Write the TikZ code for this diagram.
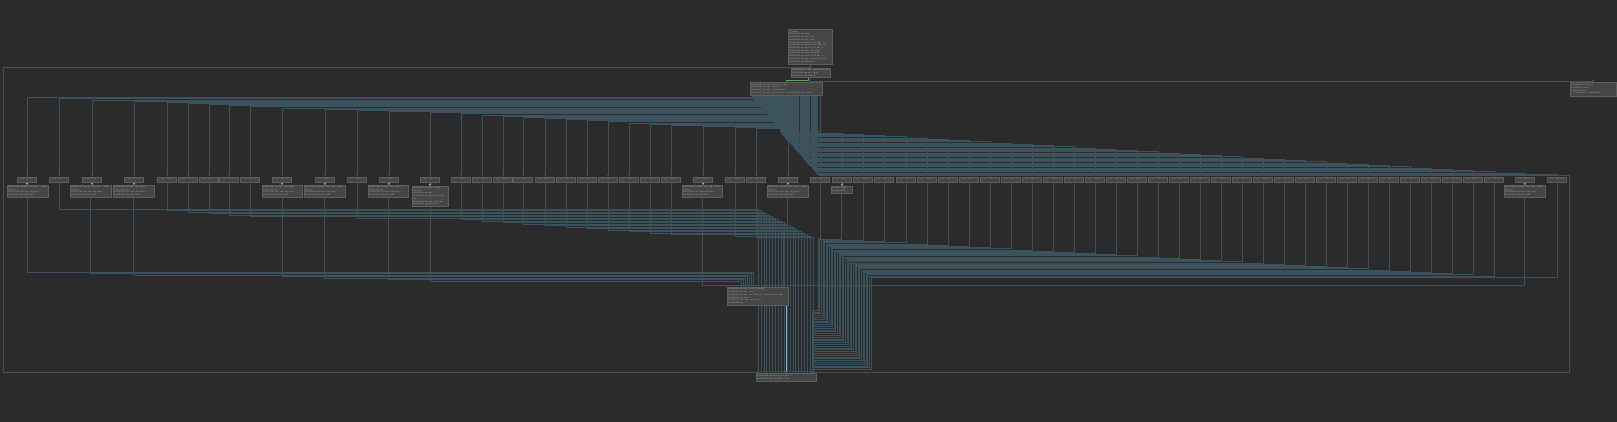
\documentclass[tikz,border=0pt]{standalone}
\usepackage{fontspec}
\usetikzlibrary{calc,arrows.meta}

\definecolor{bgcol}{HTML}{2B2B2B}
\definecolor{blkfill}{HTML}{464646}
\definecolor{blkline}{HTML}{5E5E5E}
\definecolor{asmtext}{HTML}{B4B4B4}
\definecolor{asmaddr}{HTML}{8A8A8A}
\definecolor{asmgreen}{HTML}{6FA08A}
\definecolor{edgeline}{HTML}{3C525D}
\definecolor{edgehl}{HTML}{6FB7DF}
\definecolor{edgetrue}{HTML}{5FA860}

\pgfdeclarelayer{bg}
\pgfdeclarelayer{edges}
\pgfsetlayers{bg,edges,main}

\newcommand{\asmfont}{\fontsize{1.2}{1.55}\selectfont\ttfamily}

\tikzset{
  blk/.style={draw=blkline, fill=blkfill, line width=0.3pt, inner sep=0.5pt,
    anchor=north west, align=left, font=\asmfont, text=asmtext},
  casebox/.style={draw=blkline, fill=blkfill, line width=0.3pt, inner sep=0pt,
    minimum width=0.39cm, minimum height=0.1cm, font=\asmfont, text=asmtext},
  edge/.style={draw=edgeline, line width=0.28pt, -{Triangle[width=1.3pt,length=1.1pt]}},
  hledge/.style={edge, draw=edgehl},
  trueedge/.style={edge, draw=edgetrue},
}

\begin{document}
\begin{tikzpicture}[x=0.02cm, y=-0.02cm]
\begin{pgfonlayer}{bg}
\fill[bgcol] (0,0) rectangle (1617,422);
\end{pgfonlayer}
\useasboundingbox (0,0) rectangle (1617,422);

% entry, loop test, switch table
\node[blk, text width=0.84cm, minimum height=0.70cm] (T) at (788,29) {;-- main:\\
0x00401136  push rbp\\
0x00401137  mov rbp, rsp\\
0x0040113a  sub rsp, 0x20\\
0x0040113e  mov dword [var\_14h], edi\\
0x00401141  mov qword [var\_20h], rsi\\
0x00401145  mov dword [var\_4h], 0\\
0x0040114c  lea rdi, str.start\\
0x00401153  call sym.imp.puts\\
0x00401158  mov dword [var\_8h], 0\\
0x0040115f  mov eax, dword [var\_14h]\\
0x00401162  jmp 0x401268};
\node[blk, text width=0.74cm, minimum height=0.18cm] (S) at (791,68) {0x00401268  mov eax, dword [var\_4h]\\
0x0040126b  cmp eax, 0x3f\\
0x0040126e  ja 0x401279};
\node[blk, text width=1.40cm, minimum height=0.26cm] (D) at (750,82) {0x00401167  mov eax, dword [var\_4h]\\
0x0040116a  lea rdx, [rax*4]\\
0x00401172  lea rax, [0x00402050]\\
0x00401179  jmp qword [rdx + rax] ; switch table (64 cases)};
\node[blk, text width=0.88cm, minimum height=0.28cm] (R) at (1570,82) {0x00401279  mov eax, 0\\
0x0040127e  leave\\
0x0040127f  ret\\
;-- end of main: 0x00401280};

% case blocks
\foreach \cx [count=\i] in {27,59,92,134,167,188,209,229,250,282,325,357,389,430,461,482,503,523,545,566,587,608,629,650,671,703,735,756,788,820,842,863,884,906,927,948,969,990,1011,1032,1053,1074,1095,1116,1137,1158,1179,1200,1221,1242,1263,1284,1305,1326,1347,1368,1389,1410,1431,1452,1473,1494,1525,1557}
  \node[casebox] (c\i) at (\cx,179.5) {\textcolor{asmaddr}{jmp}\ \ \textcolor{asmgreen}{case.\i}};

\node[blk, text width=0.78cm, minimum height=0.22cm] (L1) at (7,185) {0x00401180  lea rdi, str.zero ; const char *s\\
0x00401187  call sym.imp.puts\\
0x0040118c  jmp 0x401264};
\node[blk, text width=0.78cm, minimum height=0.22cm] (L2) at (70,185) {0x00401191  lea rdi, str.two ; const char *s\\
0x00401198  call sym.imp.puts\\
0x0040119d  jmp 0x401264};
\node[blk, text width=0.78cm, minimum height=0.22cm] (L3) at (113,185) {0x004011a2  lea rdi, str.three ; const char *s\\
0x004011a9  call sym.imp.puts\\
0x004011ae  jmp 0x401264};
\node[blk, text width=0.76cm, minimum height=0.22cm] (L4) at (262,185) {0x004011b3  lea rdi, str.nine ; const char *s\\
0x004011ba  call sym.imp.puts\\
0x004011bf  jmp 0x401264};
\node[blk, text width=0.78cm, minimum height=0.22cm] (L5) at (304,185) {0x004011c4  lea rdi, str.ten ; const char *s\\
0x004011cb  call sym.imp.puts\\
0x004011d0  jmp 0x401264};
\node[blk, text width=0.76cm, minimum height=0.22cm] (L6) at (368,185) {0x004011d5  lea rdi, str.twelve ; const char *s\\
0x004011dc  call sym.imp.puts\\
0x004011e1  jmp 0x401264};
\node[blk, text width=0.68cm, minimum height=0.28cm] (L7) at (412,186) {0x004011e6  mov eax, dword [var\_8h]\\
0x004011e9  add eax, 1\\
0x004011ec  mov dword [var\_8h], eax\\
0x004011ef  lea rdi, str.many\\
0x004011f6  jmp 0x401264};
\node[blk, text width=0.76cm, minimum height=0.22cm] (L8) at (682,185) {0x004011fb  lea rdi, str.odd ; const char *s\\
0x00401202  call sym.imp.puts\\
0x00401207  jmp 0x401264};
\node[blk, text width=0.78cm, minimum height=0.22cm] (L9) at (767,185) {0x0040120c  lea rdi, str.even ; const char *s\\
0x00401213  call sym.imp.puts\\
0x00401218  jmp 0x401264};
\node[blk, text width=0.38cm, minimum height=0.14cm] (L10) at (831,186) {mov eax, 0x2a\\
jmp 0x40125d};
\node[blk, text width=0.78cm, minimum height=0.22cm] (L11) at (1504,185) {0x0040121d  lea rdi, str.last ; const char *s\\
0x00401224  call sym.imp.puts\\
0x00401229  jmp 0x401264};

% merge blocks
\node[blk, text width=1.18cm, minimum height=0.36cm] (M) at (727,287) {0x0040122e  mov eax, dword [var\_4h]\\
0x00401231  mov esi, eax\\
0x00401233  lea rdi, str.value\_d ; const char *format\\
0x0040123a  mov eax, 0\\
0x0040123f  call sym.imp.printf\\
0x00401244  nop};
\node[blk, text width=1.16cm, minimum height=0.16cm] (B) at (756,373) {0x00401264  add dword [var\_4h], 1\\
0x00401268  jmp 0x401268 ; loop};

\begin{pgfonlayer}{edges}
% entry and loop edges
\draw[edge] (T.south) -- (T.south |- S.north);
\draw[trueedge] ($(S.south)+(-2,0)$) -- ++(0,2.5) -| ($(D.north west)+(37,0)$);
\draw[edge] (S.south) |- ($(R.north)+(0,-1)$) -- (R.north);
\draw[edge] ($(B.north west)+(2,0)$) |- (3,372) |- ($(S.north)+(0,-1)$) -- (S.north);

% switch edges, left side
\foreach \i in {1,...,28}{
  \pgfmathsetmacro{\ex}{1+\i}
  \pgfmathsetmacro{\dy}{2+(\i-1)*1.15}
  \draw[edge] ($(D.south west)+(\ex,0)$) -- ++(0,\dy) -| (c\i.north);
}
\draw[edge] (D.south -| c29.north) -- (c29.north);
% switch edges, right side
\foreach \i in {30,...,64}{
  \pgfmathsetmacro{\ex}{30+(\i-30)*1.1}
  \pgfmathsetmacro{\dy}{36+(\i-30)*1.25}
  \draw[edge] ($(D.south west)+(\ex,0)$) -- ++(0,\dy) -| (c\i.north);
}
% default
\draw[edge] ($(D.south west)+(70,0)$) |- (1569,175.5) |- ($(B.north east)+(-3,-1)$) -- ($(B.north east)+(-3,0)$);

% case to body
\foreach \a/\b in {1/1,3/2,4/3,10/4,11/5,13/6,14/7,26/8,29/9,31/10,63/11}
  \draw[hledge] (c\a.south) -- (c\a.south |- L\b.north);

% bodies to printf block
\foreach \n [count=\j from 0] in {1,...,7}{
  \pgfmathsetmacro{\xe}{26-\j*2}
  \pgfmathsetmacro{\dy}{-15+\j*1.5}
  \draw[edge] (L\n.south) |- ($(M.north west)+(\xe,\dy)$) -- ($(M.north west)+(\xe,0)$);
}
\draw[edge] (L8.south) |- ($(M.north west)+(32,-2)$) -- ($(M.north west)+(32,0)$);
\draw[edge] (L11.south) |- ($(M.north west)+(36,-2)$) -- ($(M.north west)+(36,0)$);
\draw[edge] (L9.south) -- ++(0,30) -| ($(M.north east)+(-5,0)$);
\draw[hledge] (B.north |- M.south) -- (B.north);

% plain cases to loop tail, left
\foreach \i [count=\k from 0] in {2,5,6,7,8,9,12,15,16,17,18,19,20,21,22,23,24,25,27,28}{
  \pgfmathsetmacro{\xe}{2+\k*2.9}
  \pgfmathsetmacro{\dy}{209+\k*1.5-373}
  \draw[edge] (c\i.south) |- ($(B.north west)+(\xe,\dy)$) -- ($(B.north west)+(\xe,0)$);
}
% plain cases to loop tail, right
\foreach \i [count=\k from 0] in {30,31,...,62,64}{
  \ifnum\i=31 \def\src{L10}\else\edef\src{c\i}\fi
  \pgfmathsetmacro{\xe}{62+\k*1.6}
  \pgfmathsetmacro{\dy}{238+\k*1.18-373}
  \pgfmathsetmacro{\dt}{310+\k*1.8-373}
  \draw[edge] (\src.south) |- ($(B.north west)+(\xe,\dy)$) |- ($(B.north west)+(56,\dt)$) -- ($(B.north west)+(56,0)$);
}
\end{pgfonlayer}
\end{tikzpicture}
\end{document}
